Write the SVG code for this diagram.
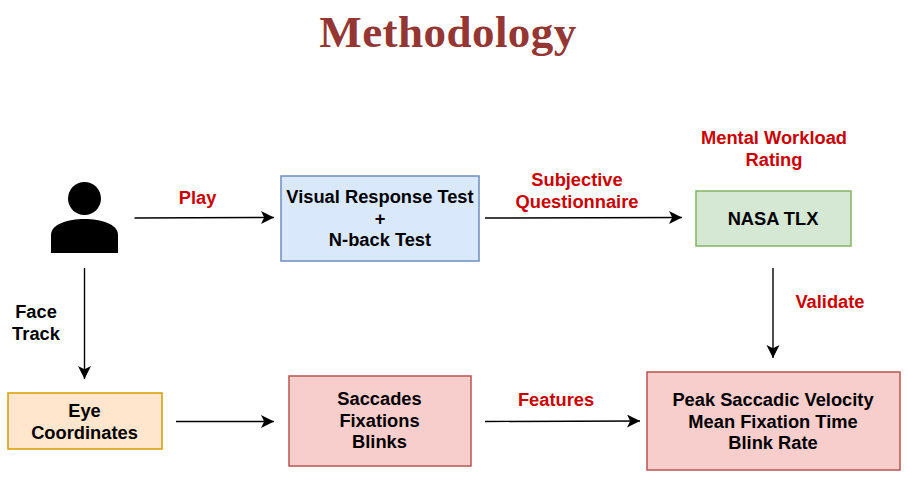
<svg xmlns="http://www.w3.org/2000/svg" width="908" height="480" viewBox="0 0 908 480">
<style>
text{font-family:"Liberation Sans",Arial,sans-serif;font-weight:700;font-size:18.3px;text-anchor:middle;fill:#000}
text.r{fill:#cc0000}
text.t{font-family:"Liberation Serif","Times New Roman",serif;font-size:45px;letter-spacing:.45px;fill:#943634}
.b{stroke-width:1.5}
.c line{stroke:#000;stroke-width:1.4;marker-end:url(#a)}
</style>
<defs><marker id="a" markerUnits="userSpaceOnUse" markerWidth="14" markerHeight="14" refX="13" refY="6.5" orient="auto"><path d="M0,0L13,6.5L0,13L3.2,6.500Z" fill="#000"/></marker></defs>
<rect width="908" height="480" fill="#fff"/>
<text class="t" x="448" y="47">Methodology</text>
<g id="user"><circle cx="84.500" cy="198.500" r="16.500" fill="#000"/><path d="M51,253V235C51,224 68,219 84.500,219C101,219 118,224 118,235V253Z" fill="#000"/></g>
<g class="c">
<line x1="134.500" y1="218" x2="274" y2="217.500"/>
<line x1="485" y1="218" x2="682" y2="217.500"/>
<line x1="84.500" y1="268" x2="84.500" y2="379"/>
<line x1="176" y1="421.500" x2="274" y2="421.500"/>
<line x1="485" y1="421.500" x2="640" y2="421"/>
<line x1="773" y1="268" x2="773" y2="358"/>
</g>
<g id="test"><rect class="b" x="281" y="176" width="198" height="85" fill="#dae8fc" stroke="#6c8ebf"/><text x="380" y="203">Visual Response Test</text><text x="380" y="225">+</text><text x="380" y="246">N-back Test</text></g>
<g id="nasa"><rect class="b" x="696" y="191" width="155" height="55" fill="#d5e8d4" stroke="#82b366"/><text x="773" y="225">NASA TLX</text></g>
<g id="eye"><rect class="b" x="8" y="393" width="154" height="56" fill="#ffe6cc" stroke="#d79b00"/><text x="84.500" y="416.500">Eye</text><text x="84.500" y="438.500">Coordinates</text></g>
<g id="sfb"><rect class="b" x="289" y="376" width="182" height="90" fill="#f8cecc" stroke="#b85450"/><text x="379.500" y="405">Saccades</text><text x="379.500" y="427">Fixations</text><text x="379.500" y="448">Blinks</text></g>
<g id="metrics"><rect class="b" x="647" y="372" width="253" height="98" fill="#f8cecc" stroke="#b85450"/><text x="773" y="405.500">Peak Saccadic Velocity</text><text x="773" y="427.500">Mean Fixation Time</text><text x="773" y="448.500">Blink Rate</text></g>
<g id="labels">
<text class="r" x="197.500" y="204">Play</text>
<text class="r" x="577" y="186">Subjective</text>
<text class="r" x="577" y="208">Questionnaire</text>
<text class="r" x="774" y="144">Mental Workload</text>
<text class="r" x="774" y="166">Rating</text>
<text class="r" x="830" y="308">Validate</text>
<text class="r" x="556" y="406">Features</text>
<text x="36" y="318">Face</text>
<text x="36" y="340">Track</text>
</g>
</svg>
